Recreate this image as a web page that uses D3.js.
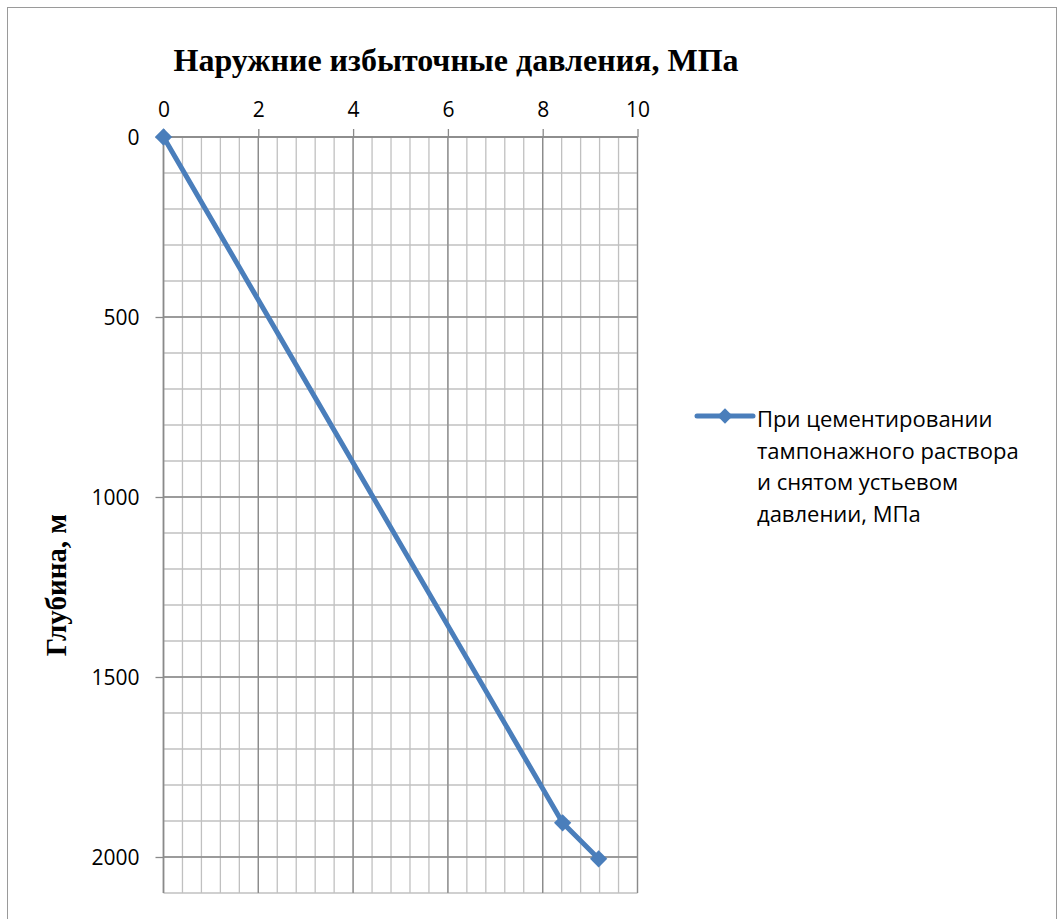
<!DOCTYPE html>
<html lang="ru">
<head>
<meta charset="UTF-8">
<title>Наружние избыточные давления</title>
<script src="https://d3js.org/d3.v7.min.js"></script>
<style>
body { margin: 0; background: #fff; }
svg { display: block; }
.tick text, .legend text { font-family: 'Open Sans', sans-serif; fill: #000; }
.heading { font-family: 'Liberation Serif', 'Times New Roman', serif; font-weight: bold; }
</style>
</head>
<body>
<svg width="1058" height="919"></svg>
<script>
// series: pressure (MPa) vs depth (m)
var pressure = [0, 8.42, 9.18];
var depth = [0, 1905, 2005];
var seriesName = ["При цементировании", "тампонажного раствора", "и снятом устьевом", "давлении, МПа"];
var xTicks = [0, 2, 4, 6, 8, 10];
var yTicks = [0, 500, 1000, 1500, 2000];

var svg = d3.select("svg");
var blue = "#4a7ebb";

svg.append("rect")
    .attr("x", 7.5).attr("y", 7.5)
    .attr("width", 1049).attr("height", 930)
    .attr("fill", "none").attr("stroke", "#9a9a9a");

var x = d3.scaleLinear().domain([0, 10]).range([163.5, 637.5]);
var y = d3.scaleLinear().domain([0, 2100]).range([137, 893]);

var grid = svg.append("g");
var minorX = d3.range(0, 10.001, 0.4);
var minorY = d3.range(0, 2100.1, 100);

grid.selectAll(".mx").data(minorX).enter().append("line")
    .attr("x1", function(d) { return x(d); }).attr("x2", function(d) { return x(d); })
    .attr("y1", y(0)).attr("y2", y(2100))
    .attr("stroke", "#c0c0c0").attr("stroke-width", 1.3);
grid.selectAll(".my").data(minorY).enter().append("line")
    .attr("x1", x(0)).attr("x2", x(10))
    .attr("y1", function(d) { return y(d); }).attr("y2", function(d) { return y(d); })
    .attr("stroke", "#c0c0c0").attr("stroke-width", 1.3);
grid.selectAll(".Mx").data(xTicks).enter().append("line")
    .attr("x1", function(d) { return x(d); }).attr("x2", function(d) { return x(d); })
    .attr("y1", y(0)).attr("y2", y(2100))
    .attr("stroke", "#8a8a8a").attr("stroke-width", 1.3);
grid.selectAll(".My").data(yTicks).enter().append("line")
    .attr("x1", x(0)).attr("x2", x(10))
    .attr("y1", function(d) { return y(d); }).attr("y2", function(d) { return y(d); })
    .attr("stroke", "#8a8a8a").attr("stroke-width", 1.3);

var xAxis = d3.axisTop(x).tickValues(xTicks).tickFormat(d3.format("d"))
    .tickSize(8).tickSizeOuter(0).tickPadding(10);
var yAxis = d3.axisLeft(y).tickValues(yTicks).tickFormat(d3.format("d"))
    .tickSize(8).tickSizeOuter(0).tickPadding(16);

var gx = svg.append("g").attr("transform", "translate(0," + y(0) + ")").call(xAxis);
var gy = svg.append("g").attr("transform", "translate(" + x(0) + ",0)").call(yAxis);
[gx, gy].forEach(function(g) {
    g.select(".domain").remove();
    g.selectAll(".tick line").attr("stroke", "#8a8a8a").attr("stroke-width", 1.3);
    g.selectAll(".tick text").style("font-size", "21px");
});
gx.selectAll(".tick text").attr("dy", "-0.1em");
gy.selectAll(".tick text").attr("dy", "0.36em");

// axis lines
svg.append("line").attr("x1", x(0)).attr("x2", x(10)).attr("y1", y(0)).attr("y2", y(0))
    .attr("stroke", "#8a8a8a").attr("stroke-width", 1.5);
svg.append("line").attr("x1", x(0)).attr("x2", x(0)).attr("y1", y(0)).attr("y2", y(2100))
    .attr("stroke", "#8a8a8a").attr("stroke-width", 1.5);

var line = d3.line()
    .x(function(d, i) { return x(pressure[i]); })
    .y(function(d, i) { return y(depth[i]); });

svg.append("path").datum(depth)
    .attr("d", line)
    .attr("fill", "none").attr("stroke", blue).attr("stroke-width", 5)
    .attr("stroke-linejoin", "round");

var diamond = d3.symbol().type(d3.symbolDiamond2).size(190);
svg.selectAll(".pt").data(depth).enter().append("path")
    .attr("d", diamond)
    .attr("transform", function(d, i) { return "translate(" + x(pressure[i]) + "," + y(d) + ")"; })
    .attr("fill", blue);

// titles
svg.append("text").attr("class", "heading")
    .attr("x", 456).attr("y", 71)
    .attr("text-anchor", "middle").style("font-size", "32px")
    .text("Наружние избыточные давления, МПа");

svg.append("text").attr("class", "heading")
    .attr("transform", "translate(66,585) rotate(-90)")
    .attr("text-anchor", "middle").style("font-size", "29px")
    .text("Глубина, м");

// legend
var legend = svg.append("g").attr("class", "legend");
legend.append("line").attr("x1", 697).attr("x2", 753).attr("y1", 416).attr("y2", 416)
    .attr("stroke", blue).attr("stroke-width", 5).attr("stroke-linecap", "round");
legend.append("path").attr("d", d3.symbol().type(d3.symbolDiamond2).size(150))
    .attr("transform", "translate(725,416)").attr("fill", blue);
legend.selectAll(".lt").data(seriesName).enter().append("text")
    .attr("x", 757).attr("y", function(d, i) { return 427 + i * 31.7; })
    .style("font-size", "22px")
    .text(function(d) { return d; });
</script>
</body>
</html>
